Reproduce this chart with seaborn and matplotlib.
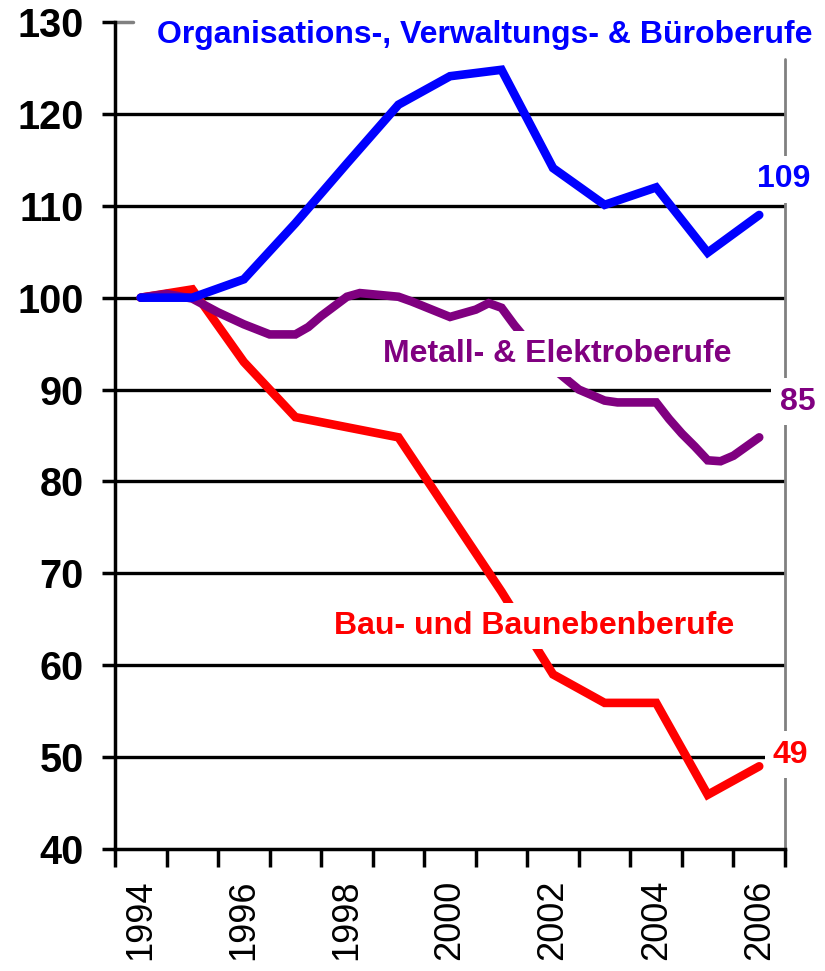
import numpy as np
import pandas as pd
import matplotlib
matplotlib.use("Agg")
import matplotlib.pyplot as plt
import seaborn as sns

# ---- data ----
years = [1994, 1995, 1996, 1997, 1998, 1999, 2000, 2001, 2002, 2003, 2004, 2005, 2006]
buero = [100, 100, 102, 108.1, 114.6, 121, 124.1, 124.8, 114.1, 110.1, 112, 104.9, 109]
bau = [100, 100.9, 93.0, 87.0, 85.9, 84.8, 76.4, 68.0, 59.0, 55.9, 55.9, 45.9, 49.0]
metall_x = [1994.0, 1994.5, 1995.0, 1995.5, 1996.0, 1996.5, 1997.0, 1997.25, 1997.5,
            1998.0, 1998.25, 1999.0, 1999.25, 2000.0, 2000.5, 2000.75, 2001.0, 2001.25,
            2001.5, 2002.0, 2002.5, 2003.0, 2003.25, 2004.0, 2004.25, 2004.5, 2004.75,
            2005.0, 2005.25, 2005.5, 2006.0]
metall = [100.0, 100.4, 99.9, 98.4, 97.1, 96.0, 96.0, 96.8, 98.0,
          100.1, 100.5, 100.1, 99.6, 97.9, 98.7, 99.4, 98.9, 97.0,
          95.3, 92.3, 90.0, 88.8, 88.6, 88.6, 86.8, 85.2, 83.8,
          82.3, 82.2, 82.8, 84.8]
year_labels = ["1994", "1996", "1998", "2000", "2002", "2004", "2006"]
yticks = [40, 50, 60, 70, 80, 90, 100, 110, 120, 130]
name_buero = "Organisations-, Verwaltungs- & Büroberufe"
name_metall = "Metall- & Elektroberufe"
name_bau = "Bau- und Baunebenberufe"

BLUE = "#0000FF"
RED = "#FF0000"
PURPLE = "#800080"
GRAY = "#808080"

sns.set_theme(style="white")
plt.rcParams["font.family"] = ["Liberation Sans", "DejaVu Sans"]

fig = plt.figure(figsize=(8.25, 9.71), dpi=100)
ax = fig.add_axes([115 / 825, 1 - 849 / 971, 670 / 825, 827 / 971])

df_b = pd.DataFrame({"x": years, "y": buero})
df_r = pd.DataFrame({"x": years, "y": bau})
df_m = pd.DataFrame({"x": metall_x, "y": metall})

line_kw = dict(linewidth=6.2, solid_capstyle="round", solid_joinstyle="miter", estimator=None)
sns.lineplot(data=df_r, x="x", y="y", color=RED, ax=ax, zorder=3, **line_kw)
sns.lineplot(data=df_m, x="x", y="y", color=PURPLE, ax=ax, zorder=4, **line_kw)
sns.lineplot(data=df_b, x="x", y="y", color=BLUE, ax=ax, zorder=5, **line_kw)

ax.set_xlim(1993.5, 2006.5)
ax.set_ylim(40, 130)

# gridlines
ax.hlines(yticks[1:-1], 1993.5, 2006.5, colors="black", linewidth=2.4, zorder=1)

# right gray line and top gray tick
ax.plot([2006.5, 2006.5], [126, 40], color=GRAY, lw=2, clip_on=False, zorder=2)
ax.plot([1993.5, 1993.85], [130, 130], color=GRAY, lw=2.5, clip_on=False, zorder=2)

# spines
for s in ["top", "right"]:
    ax.spines[s].set_visible(False)
for s in ["left", "bottom"]:
    ax.spines[s].set_color("black")
    ax.spines[s].set_linewidth(2.5)

# y ticks
ax.set_yticks(yticks)
ax.set_yticklabels([str(v) for v in yticks], fontsize=28.5, fontweight="bold", color="black")
ax.tick_params(axis="y", which="major", left=True, direction="out", length=9.5, width=2.5,
               color="black", pad=13)

# x ticks: boundaries (marks) + labels at centers
ax.set_xticks(np.arange(1993.5, 2007, 1.0))
ax.set_xticklabels([])
ax.set_xticks([int(y) for y in year_labels], minor=True)
ax.set_xticklabels(year_labels, minor=True, rotation=90, fontsize=26, color="black")
ax.tick_params(axis="x", which="major", bottom=True, direction="out", length=13, width=2.5,
               color="black")
ax.tick_params(axis="x", which="minor", bottom=True, length=0, pad=22)

ax.set_xlabel("")
ax.set_ylabel("")
ax.grid(False)

box = dict(facecolor="white", edgecolor="none", pad=6)
tkw = dict(fontsize=23, fontweight="bold", va="baseline", ha="center", zorder=10)
ax.text(2000.68, 127.7, name_buero, color=BLUE, clip_on=False, **tkw)
ax.text(2006.48, 112.0, "109", color=BLUE, bbox=box, clip_on=False, **tkw)
ax.text(2002.08, 93.0, name_metall, color=PURPLE, bbox=box, **tkw)
ax.text(2006.74, 87.8, "85", color=PURPLE, bbox=box, clip_on=False, **tkw)
ax.text(2001.64, 63.4, name_bau, color=RED, bbox=box, **tkw)
ax.text(2006.61, 49.4, "49", color=RED, bbox=box, clip_on=False, **tkw)

fig.savefig("out.png", dpi=100)
